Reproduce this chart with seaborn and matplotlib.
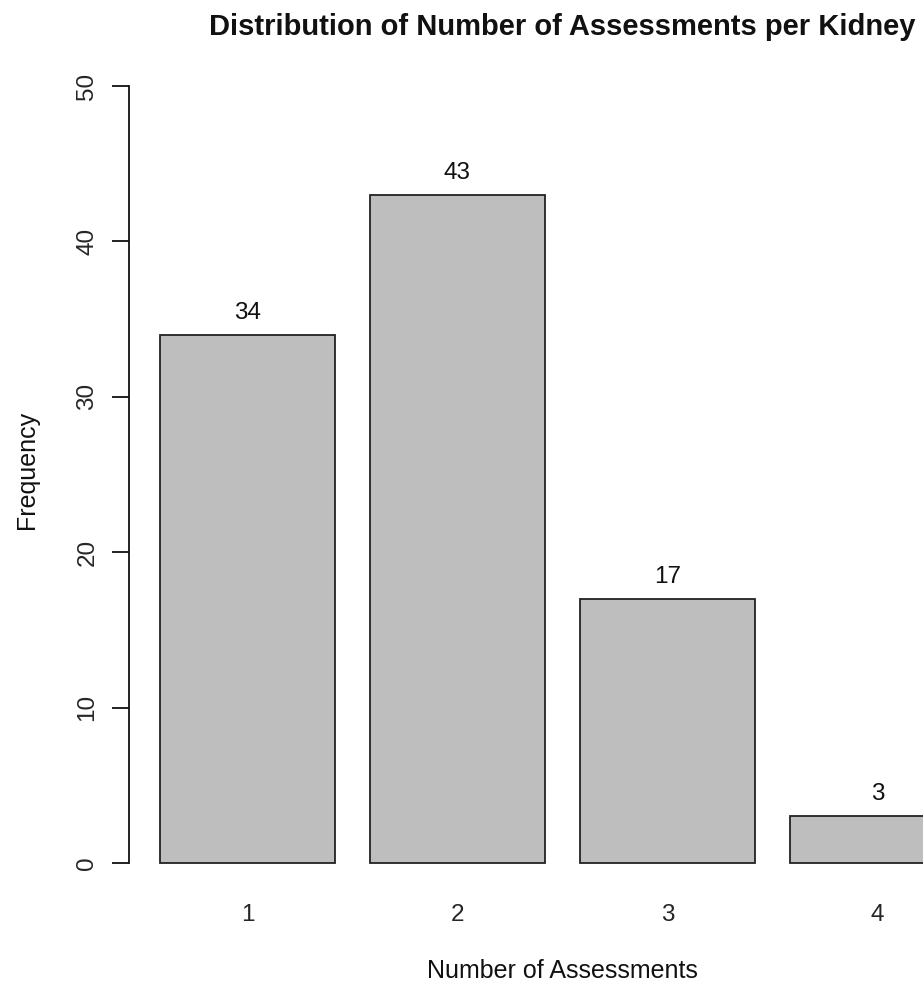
import matplotlib
matplotlib.use("Agg")
import matplotlib.pyplot as plt
import pandas as pd
import seaborn as sns

# data
assessments = ["1", "2", "3", "4"]
frequency = [34, 43, 17, 3]
y_ticks = [0, 10, 20, 30, 40, 50]

sns.set_theme(style="white")
plt.rcParams["font.family"] = ["Liberation Sans", "DejaVu Sans"]

df = pd.DataFrame({"n": assessments, "freq": frequency})

W, H = 923, 983
fig = plt.figure(figsize=(W / 100, H / 100), dpi=100)

# axes placed in pixel terms so the layout follows the R-style original
px_left, px_right = 129, 923
px_top, px_bottom = 55, 894
ax = fig.add_axes([px_left / W, (H - px_bottom) / H,
                   (px_right - px_left) / W, (px_bottom - px_top) / H])

sns.barplot(data=df, x="n", y="freq", color="#bebebe", saturation=1,
            width=175 / 210, edgecolor="#222222", linewidth=1.3, ax=ax)

# x range: spine at pixel 129, bar centres 210 px apart, first at 247.5
unit = 210
ax.set_xlim((px_left - 247.5) / unit, (px_right - 247.5) / unit)
# y range: 0 at pixel 863, 50 at pixel 86
ppu = (863 - 86) / 50
ax.set_ylim(-(px_bottom - 863) / ppu, 50 + (86 - px_top) / ppu)

for i, v in enumerate(frequency):
    ax.annotate(str(v), (i, v), xytext=(0, 22), textcoords="offset pixels",
                ha="center", va="center", fontsize=17.5, color="#111111")

for s in ["top", "right", "bottom"]:
    ax.spines[s].set_visible(False)
ax.spines["left"].set_bounds(0, 50)
ax.spines["left"].set_color("#111111")
ax.spines["left"].set_linewidth(1.3)

ax.set_yticks(y_ticks)
ax.set_yticklabels([str(t) for t in y_ticks], rotation=90, va="center",
                   fontsize=17.5)
ax.tick_params(axis="y", left=True, length=12, width=1.3, color="#111111",
               pad=10)
ax.tick_params(axis="x", bottom=False, labelsize=17.5, pad=1)

ax.set_xlabel("")
ax.set_ylabel("")
fig.text(27 / W, 1 - 470 / H, "Frequency", rotation=90, ha="center",
         va="center", fontsize=18, color="#111111")
fig.text(562 / W, 1 - 978 / H, "Number of Assessments", ha="center",
         va="baseline", fontsize=18, color="#111111")
fig.text(562 / W, 1 - 35 / H, "Distribution of Number of Assessments per Kidney",
         ha="center", va="baseline", fontsize=21, fontweight="bold",
         color="#111111")

fig.savefig("out.png", dpi=100)
